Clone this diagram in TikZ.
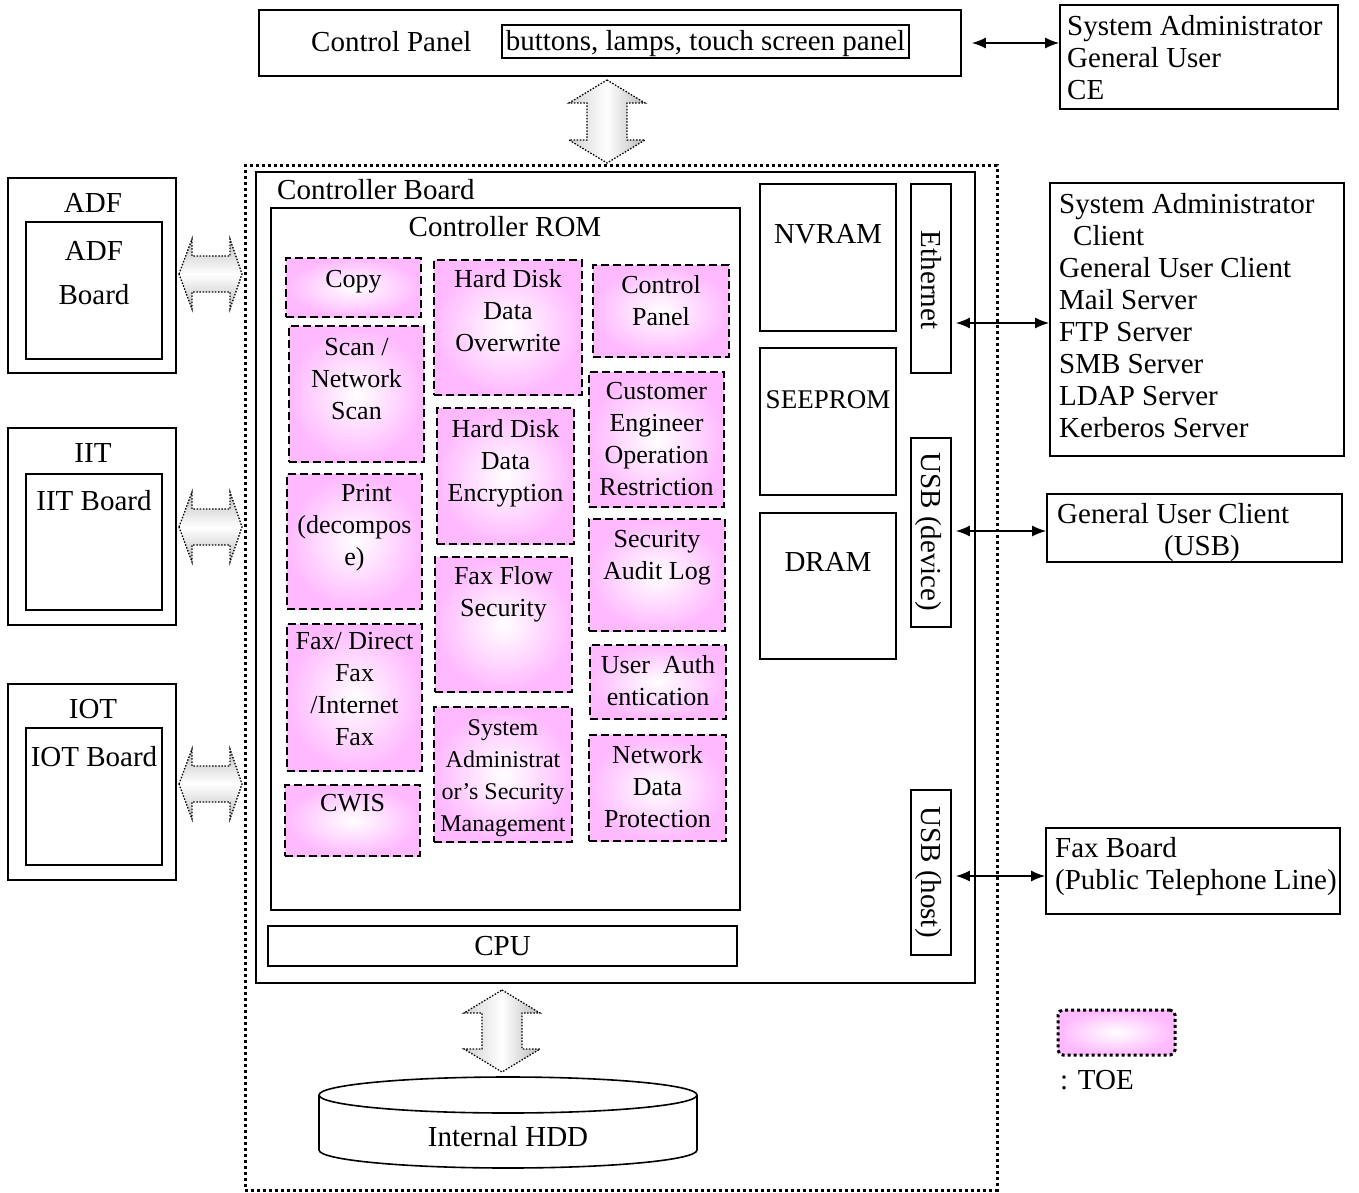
\documentclass[tikz,border=0pt]{standalone}
\usepackage{fontspec}
\setmainfont{Liberation Serif}
\usetikzlibrary{arrows.meta}
\definecolor{toepink}{RGB}{255,185,255}
\newcommand\hblockarrow[1]{%
  \draw[blockarrow, top color=gray!50, bottom color=gray!50, middle color=white]
    (179,#1) -- (192,{#1-35}) -- (192,{#1-18}) -- (230,{#1-18}) -- (230,{#1-35})
    -- (242,#1) -- (230,{#1+35}) -- (230,{#1+18}) -- (192,{#1+18}) -- (192,{#1+35}) -- cycle;}
\newcommand\vblockarrow[3]{%
  \draw[blockarrow, left color=gray!35, right color=gray!55, middle color=white]
    (#1,#2) -- ({#1+38},{#2+23}) -- ({#1+20},{#2+23}) -- ({#1+20},{#3-23}) -- ({#1+38},{#3-23})
    -- (#1,#3) -- ({#1-38},{#3-23}) -- ({#1-20},{#3-23}) -- ({#1-20},{#2+23}) -- ({#1-38},{#2+23}) -- cycle;}
\begin{document}
\begin{tikzpicture}[x=1pt,y=-1pt,
  box/.style={draw, line width=1.6pt, inner sep=0pt},
  toe/.style={draw, line width=2.2pt, dash pattern=on 8pt off 4pt, inner sep=0pt,
              inner color=white, outer color=toepink},
  big/.style={font=\fontsize{29}{32}\selectfont, inner sep=0pt, text height=21pt, text depth=2pt},
  multi/.style={font=\fontsize{29}{32}\selectfont, inner sep=0pt, align=left, anchor=north west,
              execute at begin node=\strut, yshift=-2.5pt},
  tt/.style={font=\fontsize{26}{32}\selectfont, inner sep=0pt, align=center, anchor=north,
              execute at begin node=\strut},
  ml/.style={yshift=-4.5pt},
  ts/.style={font=\fontsize{24}{32}\selectfont, inner sep=0pt, align=center, anchor=north,
              execute at begin node=\strut, yshift=-6.5pt},
  conn/.style={line width=1.6pt, {Latex[length=14pt,width=11pt]}-{Latex[length=14pt,width=11pt]}},
  blockarrow/.style={line width=1.3pt, dash pattern=on 1.5pt off 1.6pt},
  dottedbox/.style={draw, line width=3pt, dash pattern=on 3pt off 3pt, inner sep=0pt}]
\useasboundingbox (0,0) rectangle (1359,1193);

% ---------- top ----------
\node[box, minimum width=702pt, minimum height=66pt] (cp) at (610,43) {};
\node[big, anchor=west] (cplabel) at (311,42) {Control Panel};
\node[box, line width=1.4pt, minimum width=407pt, minimum height=33pt, big] (btn) at (705.5,41.5) {buttons, lamps, touch screen panel};
\node[box, minimum width=278pt, minimum height=104pt] (users) at (1199,57) {};
\node[multi] (userstext) at (1067,12.2) {System Administrator\\General User\\CE};
\draw[conn] ([xshift=10pt]cp.east) -- (cp.east -| users.west);

\vblockarrow{607}{80}{163}

% ---------- controller ----------
\node[dottedbox, minimum width=752pt, minimum height=1024pt] (outer) at (621,678) {};
\node[box, minimum width=719pt, minimum height=811pt] (cb) at (615.5,577.5) {};
\node[big, anchor=west] (cblabel) at (277,190) {Controller Board};
\node[box, minimum width=469pt, minimum height=702pt] (rom) at (505.5,559) {};
\node[big] (romlabel) at (505,227) {Controller ROM};
\node[box, minimum width=469pt, minimum height=40pt, big] (cpu) at (502.5,946) {CPU};

\node[box, minimum width=136pt, minimum height=147pt] (nvram) at (828,257.5) {};
\node[big] (nvramlabel) at (828,234) {NVRAM};
\node[box, minimum width=136pt, minimum height=147pt] (seeprom) at (828,421.5) {};
\node[big, font=\fontsize{27}{32}\selectfont] (seepromlabel) at (828,399) {SEEPROM};
\node[box, minimum width=136pt, minimum height=146pt] (dram) at (828,586) {};
\node[big] (dramlabel) at (828,562) {DRAM};

\node[box, minimum width=40pt, minimum height=189pt] (eth) at (931,278.5) {};
\node[big, rotate=-90] (ethlabel) at (931,280) {Ethernet};
\node[box, minimum width=40pt, minimum height=189pt] (usbd) at (931,532.5) {};
\node[big, rotate=-90] (usbdlabel) at (931,532) {USB (device)};
\node[box, minimum width=40pt, minimum height=165pt] (usbh) at (931,872.5) {};
\node[big, rotate=-90] (usbhlabel) at (931,872) {USB (host)};

% ---------- TOE functions ----------
\node[toe, minimum width=135pt, minimum height=59pt] (copy) at (353.5,287.5) {};
\node[tt] (copyt) at (353.5,265.2) {Copy};
\node[toe, minimum width=135pt, minimum height=136pt] (scan) at (356.5,394) {};
\node[tt, ml] (scant) at (356.5,333.2) {Scan /\\Network\\Scan};
\node[toe, minimum width=135pt, minimum height=135pt] (print) at (354.5,541.5) {};
\node[tt, ml] (printt) at (354.5,479.2) {\hspace*{24pt}Print\\(decompos\\e)};
\node[toe, minimum width=135pt, minimum height=147pt] (fax) at (354.5,697.5) {};
\node[tt, ml] (faxt) at (354.5,627.2) {Fax/ Direct\\Fax\\/Internet\\Fax};
\node[toe, minimum width=135pt, minimum height=71pt] (cwis) at (352.5,820.5) {};
\node[tt] (cwist) at (352.5,789.2) {CWIS};

\node[toe, minimum width=148pt, minimum height=135pt] (hdo) at (508,327.5) {};
\node[tt, ml] (hdot) at (508,265.2) {Hard Disk\\Data\\Overwrite};
\node[toe, minimum width=137pt, minimum height=136pt] (hde) at (505.5,476) {};
\node[tt, ml] (hdet) at (505.5,415.2) {Hard Disk\\Data\\Encryption};
\node[toe, minimum width=137pt, minimum height=135pt] (ffs) at (503.5,624.5) {};
\node[tt, ml] (ffst) at (503.5,562.2) {Fax Flow\\Security};
\node[toe, minimum width=138pt, minimum height=135pt] (sasm) at (503,774.5) {};
\node[ts] (sasmt) at (503,712.5) {System\\Administrat\\or’s Security\\Management};

\node[toe, minimum width=136pt, minimum height=92pt] (cpl) at (661,311) {};
\node[tt, ml] (cplt) at (661,271.2) {Control\\Panel};
\node[toe, minimum width=135pt, minimum height=135pt] (ce) at (656.5,439.5) {};
\node[tt, ml] (cet) at (656.5,377.2) {Customer\\Engineer\\Operation\\Restriction};
\node[toe, minimum width=136pt, minimum height=112pt] (sal) at (657,575) {};
\node[tt, ml] (salt) at (657,525.2) {Security\\Audit Log};
\node[toe, minimum width=136pt, minimum height=74pt] (ua) at (658,682) {};
\node[tt, ml] (uat) at (658,651.2) {User\ \ Auth\\entication};
\node[toe, minimum width=137pt, minimum height=106pt] (ndp) at (657.5,788) {};
\node[tt, ml] (ndpt) at (657.5,741.2) {Network\\Data\\Protection};

% ---------- right side ----------
\node[box, minimum width=294pt, minimum height=273pt] (net) at (1197,319.5) {};
\node[multi] (nettext) at (1059,190.2) {System Administrator\\\hspace*{14pt}Client\\General User Client\\Mail Server\\FTP Server\\SMB Server\\LDAP Server\\Kerberos Server};
\coordinate (ya) at (0,323);
\draw[conn] ([xshift=4pt]eth.east |- ya) -- (net.west |- ya);

\node[box, minimum width=295pt, minimum height=68pt] (usbuser) at (1194.5,528) {};
\node[big, anchor=west] (usbuser1) at (1057,514) {General User Client};
\node[big] (usbuser2) at (1202,546) {(USB)};
\coordinate (yb) at (0,531);
\draw[conn] ([xshift=4pt]usbd.east |- yb) -- (usbuser.west |- yb);

\node[box, minimum width=294pt, minimum height=86pt] (faxb) at (1193,871) {};
\node[multi] (faxbtext) at (1055,834.2) {Fax Board\\(Public Telephone Line)};
\coordinate (yc) at (0,876);
\draw[conn] ([xshift=4pt]usbh.east |- yc) -- (faxb.west |- yc);

% legend
\node[dottedbox, rounded corners=5pt, inner color=white, outer color=toepink,
      minimum width=117pt, minimum height=45pt] (legend) at (1116.5,1032.5) {};
\node[big, anchor=west] (legendt) at (1060,1080) {: TOE};

% ---------- left side ----------
\node[box, minimum width=168pt, minimum height=195pt] (adfo) at (92,275.5) {};
\node[big] (adfl) at (93,203) {ADF};
\node[box, minimum width=136pt, minimum height=137pt] (adfi) at (94,290.5) {};
\node[big] (adfb1) at (94,251) {ADF};
\node[big] (adfb2) at (94,295) {Board};

\node[box, minimum width=168pt, minimum height=197pt] (iito) at (92,526.5) {};
\node[big] (iitl) at (93,453) {IIT};
\node[box, minimum width=136pt, minimum height=136pt] (iiti) at (94,542) {};
\node[big] (iitb) at (94,501) {IIT Board};

\node[box, minimum width=168pt, minimum height=196pt] (ioto) at (92,782) {};
\node[big] (iotl) at (93,709) {IOT};
\node[box, minimum width=136pt, minimum height=137pt] (ioti) at (94,796.5) {};
\node[big] (iotb) at (94,757) {IOT Board};

\hblockarrow{274}
\hblockarrow{527}
\hblockarrow{784}

% ---------- HDD ----------
\vblockarrow{502}{990}{1072}
\draw[line width=1.6pt, fill=white] (319,1095) -- (319,1150) arc[start angle=180, end angle=360, x radius=189, y radius=-18] -- (697,1095);
\draw[line width=1.6pt, fill=white] (508,1095) ellipse[x radius=189, y radius=18];
\node[big] (hdd) at (508,1137) {Internal HDD};
\end{tikzpicture}
\end{document}
